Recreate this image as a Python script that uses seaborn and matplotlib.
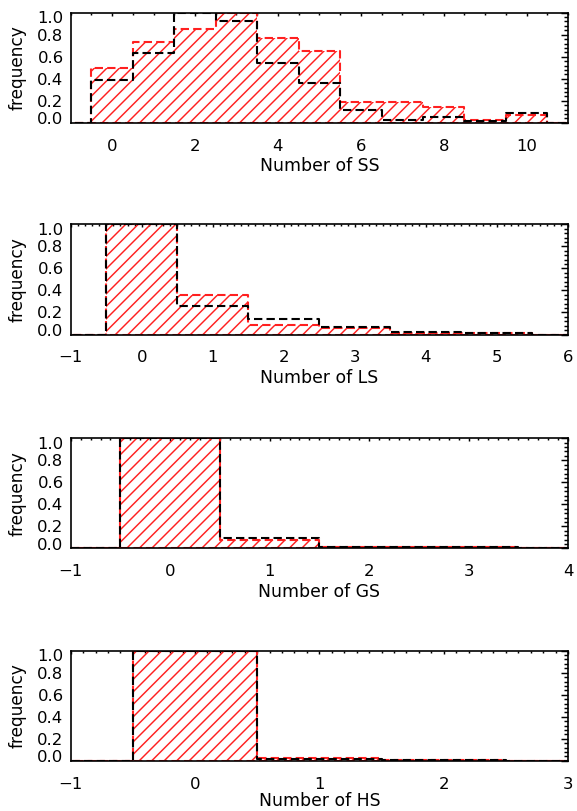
import matplotlib
matplotlib.use('Agg')
import matplotlib.pyplot as plt
import matplotlib.transforms as mtransforms
from matplotlib.ticker import MultipleLocator
import seaborn as sns

# Normalised histograms: red = hatched sample, black = dashed sample
# (outer bins are empty so the step lines run on to the axis edges)
SS_BINS = [-1, 0, 1, 2, 3, 4, 5, 6, 7, 8, 9, 10, 11]
SS_RED = [0, 0.50, 0.73, 0.85, 1.00, 0.77, 0.65, 0.19, 0.19, 0.145, 0.03, 0.075, 0]
SS_BLACK = [0, 0.39, 0.635, 1.00, 0.925, 0.54, 0.36, 0.12, 0.03, 0.05, 0.02, 0.085, 0]

LS_BINS = [-1, 0, 1, 2, 3, 4, 5, 6]
LS_RED = [0, 1.00, 0.36, 0.09, 0.06, 0.015, 0.01, 0]
LS_BLACK = [0, 1.00, 0.26, 0.14, 0.07, 0.025, 0.012, 0]

GS_BINS = [-1, 0, 1, 2, 3, 4]
GS_RED = [0, 1.00, 0.08, 0.012, 0.01, 0]
GS_BLACK = [0, 1.00, 0.097, 0.015, 0.01, 0]

HS_BINS = [-1, 0, 1, 2, 3]
HS_RED = [0, 1.00, 0.03, 0.005, 0]
HS_BLACK = [0, 1.00, 0.018, 0.006, 0]

PANELS = [
    ('Number of SS', SS_BINS, SS_RED, SS_BLACK, (-1, 11), 2, 0.5),
    ('Number of LS', LS_BINS, LS_RED, LS_BLACK, (-1, 6), 1, 0.1),
    ('Number of GS', GS_BINS, GS_RED, GS_BLACK, (-1, 4), 1, 0.1),
    ('Number of HS', HS_BINS, HS_RED, HS_BLACK, (-1, 3), 1, 0.1),
]
Y_TICKS = [0.0, 0.2, 0.4, 0.6, 0.8, 1.0]

# axes boxes in figure fractions (left, bottom, width, height)
BOTTOMS = [0.8485, 0.5875, 0.3237, 0.0618]
LABELPADS = [1.8, 1.8, 1.8, 0.2]
LEFT, WIDTH, HEIGHT = 0.1225, 0.8619, 0.1359

DPI = 150
DASH = (0, (4, 2))

sns.set_style('white')
plt.rcParams['font.family'] = ['DejaVu Sans']
plt.rcParams['hatch.linewidth'] = 0.7
plt.rcParams['hatch.color'] = 'red'
plt.rcParams['axes.linewidth'] = 0.8
for key in ['text.color', 'axes.labelcolor', 'xtick.color', 'ytick.color',
            'xtick.labelcolor', 'ytick.labelcolor']:
    plt.rcParams[key] = 'black'

fig = plt.figure(figsize=(577 / DPI, 811 / DPI), dpi=DPI)

for (xlabel, bins, red, black, xlim, major, minor), bottom, lpad in zip(PANELS, BOTTOMS, LABELPADS):
    ax = fig.add_axes([LEFT, bottom, WIDTH, HEIGHT])
    edges = [b - 0.5 for b in bins] + [bins[-1] + 0.5]

    sns.histplot(x=bins, weights=red, bins=edges, element='step', fill=True,
                 color='red', facecolor='none', edgecolor='#ff2020', hatch='////',
                 linestyle=DASH, linewidth=1.0, ax=ax, zorder=2)
    sns.histplot(x=bins, weights=black, bins=edges, element='step', fill=False,
                 color='black', linestyle=DASH, linewidth=1.0, ax=ax, zorder=3)

    ax.set_xlim(*xlim)
    ax.set_ylim(0, 1)
    ax.xaxis.set_major_locator(MultipleLocator(major))
    ax.xaxis.set_minor_locator(MultipleLocator(minor))
    ax.set_yticks(Y_TICKS)
    ax.set_yticklabels([f'{t:.1f}' for t in Y_TICKS])
    ax.yaxis.set_minor_locator(MultipleLocator(0.04))

    ax.tick_params(which='both', direction='in', top=True, right=True,
                   width=0.7, labelsize=7.9, color='black', labelcolor='black')
    ax.tick_params(axis='x', which='major', length=1.6, pad=7.6)
    ax.tick_params(axis='x', which='minor', length=0.8)
    ax.tick_params(axis='y', which='major', length=3.4, pad=3.4)
    ax.tick_params(axis='y', which='minor', length=1.7)

    ax.set_xlabel(xlabel, fontsize=8.3, labelpad=lpad, color='black')
    ax.set_ylabel('frequency', fontsize=8.2, labelpad=5.0, color='black')

    for sp in ax.spines.values():
        sp.set_color('black')
        sp.set_zorder(4)

    # nudge the end labels inward, as in the original
    yt = ax.yaxis.get_major_ticks()
    lo, hi = yt[0].label1, yt[-1].label1
    lo.set_transform(lo.get_transform() + mtransforms.ScaledTranslation(0, 4.5 / DPI, fig.dpi_scale_trans))
    hi.set_transform(hi.get_transform() + mtransforms.ScaledTranslation(0, -4.5 / DPI, fig.dpi_scale_trans))

fig.savefig('out.png', dpi=DPI)
